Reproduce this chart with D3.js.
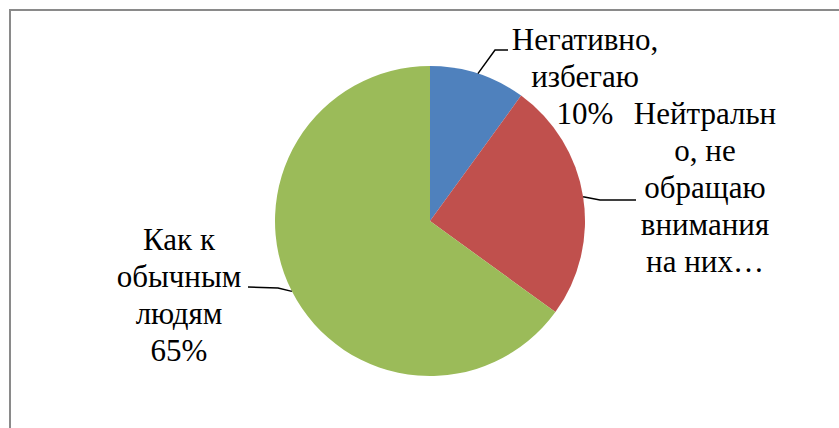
<!DOCTYPE html>
<html>
<head>
<meta charset="utf-8">
<script src="https://cdn.jsdelivr.net/npm/d3@7"></script>
</head>
<body style="margin:0;background:#fff">
<script>
const ctx = {
    W: 839,
    H: 428,
    CX: 430,
    CY: 221,
    R: 155,
    FONT: 31,
    LINE_H: 37,
};

// data
const categories = ["Негативно, избегаю", "Нейтрально, не обращаю внимания на них", "Как к обычным людям"];
const shares = [10, 25, 65];
const colors = ["#4F81BD", "#C0504D", "#9BBB59"];
const labelLines = [
    ["Негативно,", "избегаю", "10%"],
    ["Нейтральн", "о, не", "обращаю", "внимания", "на них…"],
    ["Как к", "обычным", "людям", "65%"]
];

// label placement (center x, first baseline, leader elbow and end)
const labelPos = [
    { x: 585, y: 50, elbow: [495, 50], end: [508, 50] },
    { x: 705, y: 124, elbow: [600, 200], end: [636, 200] },
    { x: 179, y: 250, elbow: [278, 288], end: [248, 287] }
];

function createViz() {
    const svgEl = d3.select("body").append("svg")
        .attr("width", ctx.W)
        .attr("height", ctx.H)
        .style("font-family", '"Liberation Serif"');

    // chart frame (right and bottom edges fall outside the crop)
    svgEl.append("rect")
        .attr("x", 10).attr("y", 10)
        .attr("width", ctx.W + 20).attr("height", ctx.H + 20)
        .attr("fill", "none")
        .attr("stroke", "#8a8a8a")
        .attr("stroke-width", 2);

    const pie = d3.pie().sort(null).value(d => d);
    const arcs = pie(shares);
    const arcGen = d3.arc().innerRadius(0).outerRadius(ctx.R);
    const edgeArc = d3.arc().innerRadius(ctx.R).outerRadius(ctx.R);

    const g = svgEl.append("g")
        .attr("transform", `translate(${ctx.CX},${ctx.CY})`);

    g.selectAll("path.slice")
        .data(arcs)
        .enter()
        .append("path")
        .attr("class", "slice")
        .attr("d", arcGen)
        .attr("fill", (d, i) => colors[i]);

    // leader lines
    svgEl.append("g").attr("id", "leaders")
        .selectAll("polyline")
        .data(arcs)
        .enter()
        .append("polyline")
        .attr("points", (d, i) => {
            const c = edgeArc.centroid(d);
            const p = labelPos[i];
            return [[ctx.CX + c[0], ctx.CY + c[1]], p.elbow, p.end].map(q => q.join(",")).join(" ");
        })
        .attr("fill", "none")
        .attr("stroke", "#000")
        .attr("stroke-width", 1.5);

    // labels, one text element per line
    const rows = [];
    labelLines.forEach((lines, i) => lines.forEach((t, j) => rows.push({ t: t, i: i, j: j })));

    svgEl.append("g").attr("id", "labels")
        .selectAll("text")
        .data(rows)
        .enter()
        .append("text")
        .attr("x", d => labelPos[d.i].x)
        .attr("y", d => labelPos[d.i].y + d.j * ctx.LINE_H)
        .attr("text-anchor", "middle")
        .attr("font-size", ctx.FONT)
        .style("font-family", '"Liberation Serif"')
        .attr("fill", "#000")
        .text(d => d.t);
}

createViz();
</script>
</body>
</html>
